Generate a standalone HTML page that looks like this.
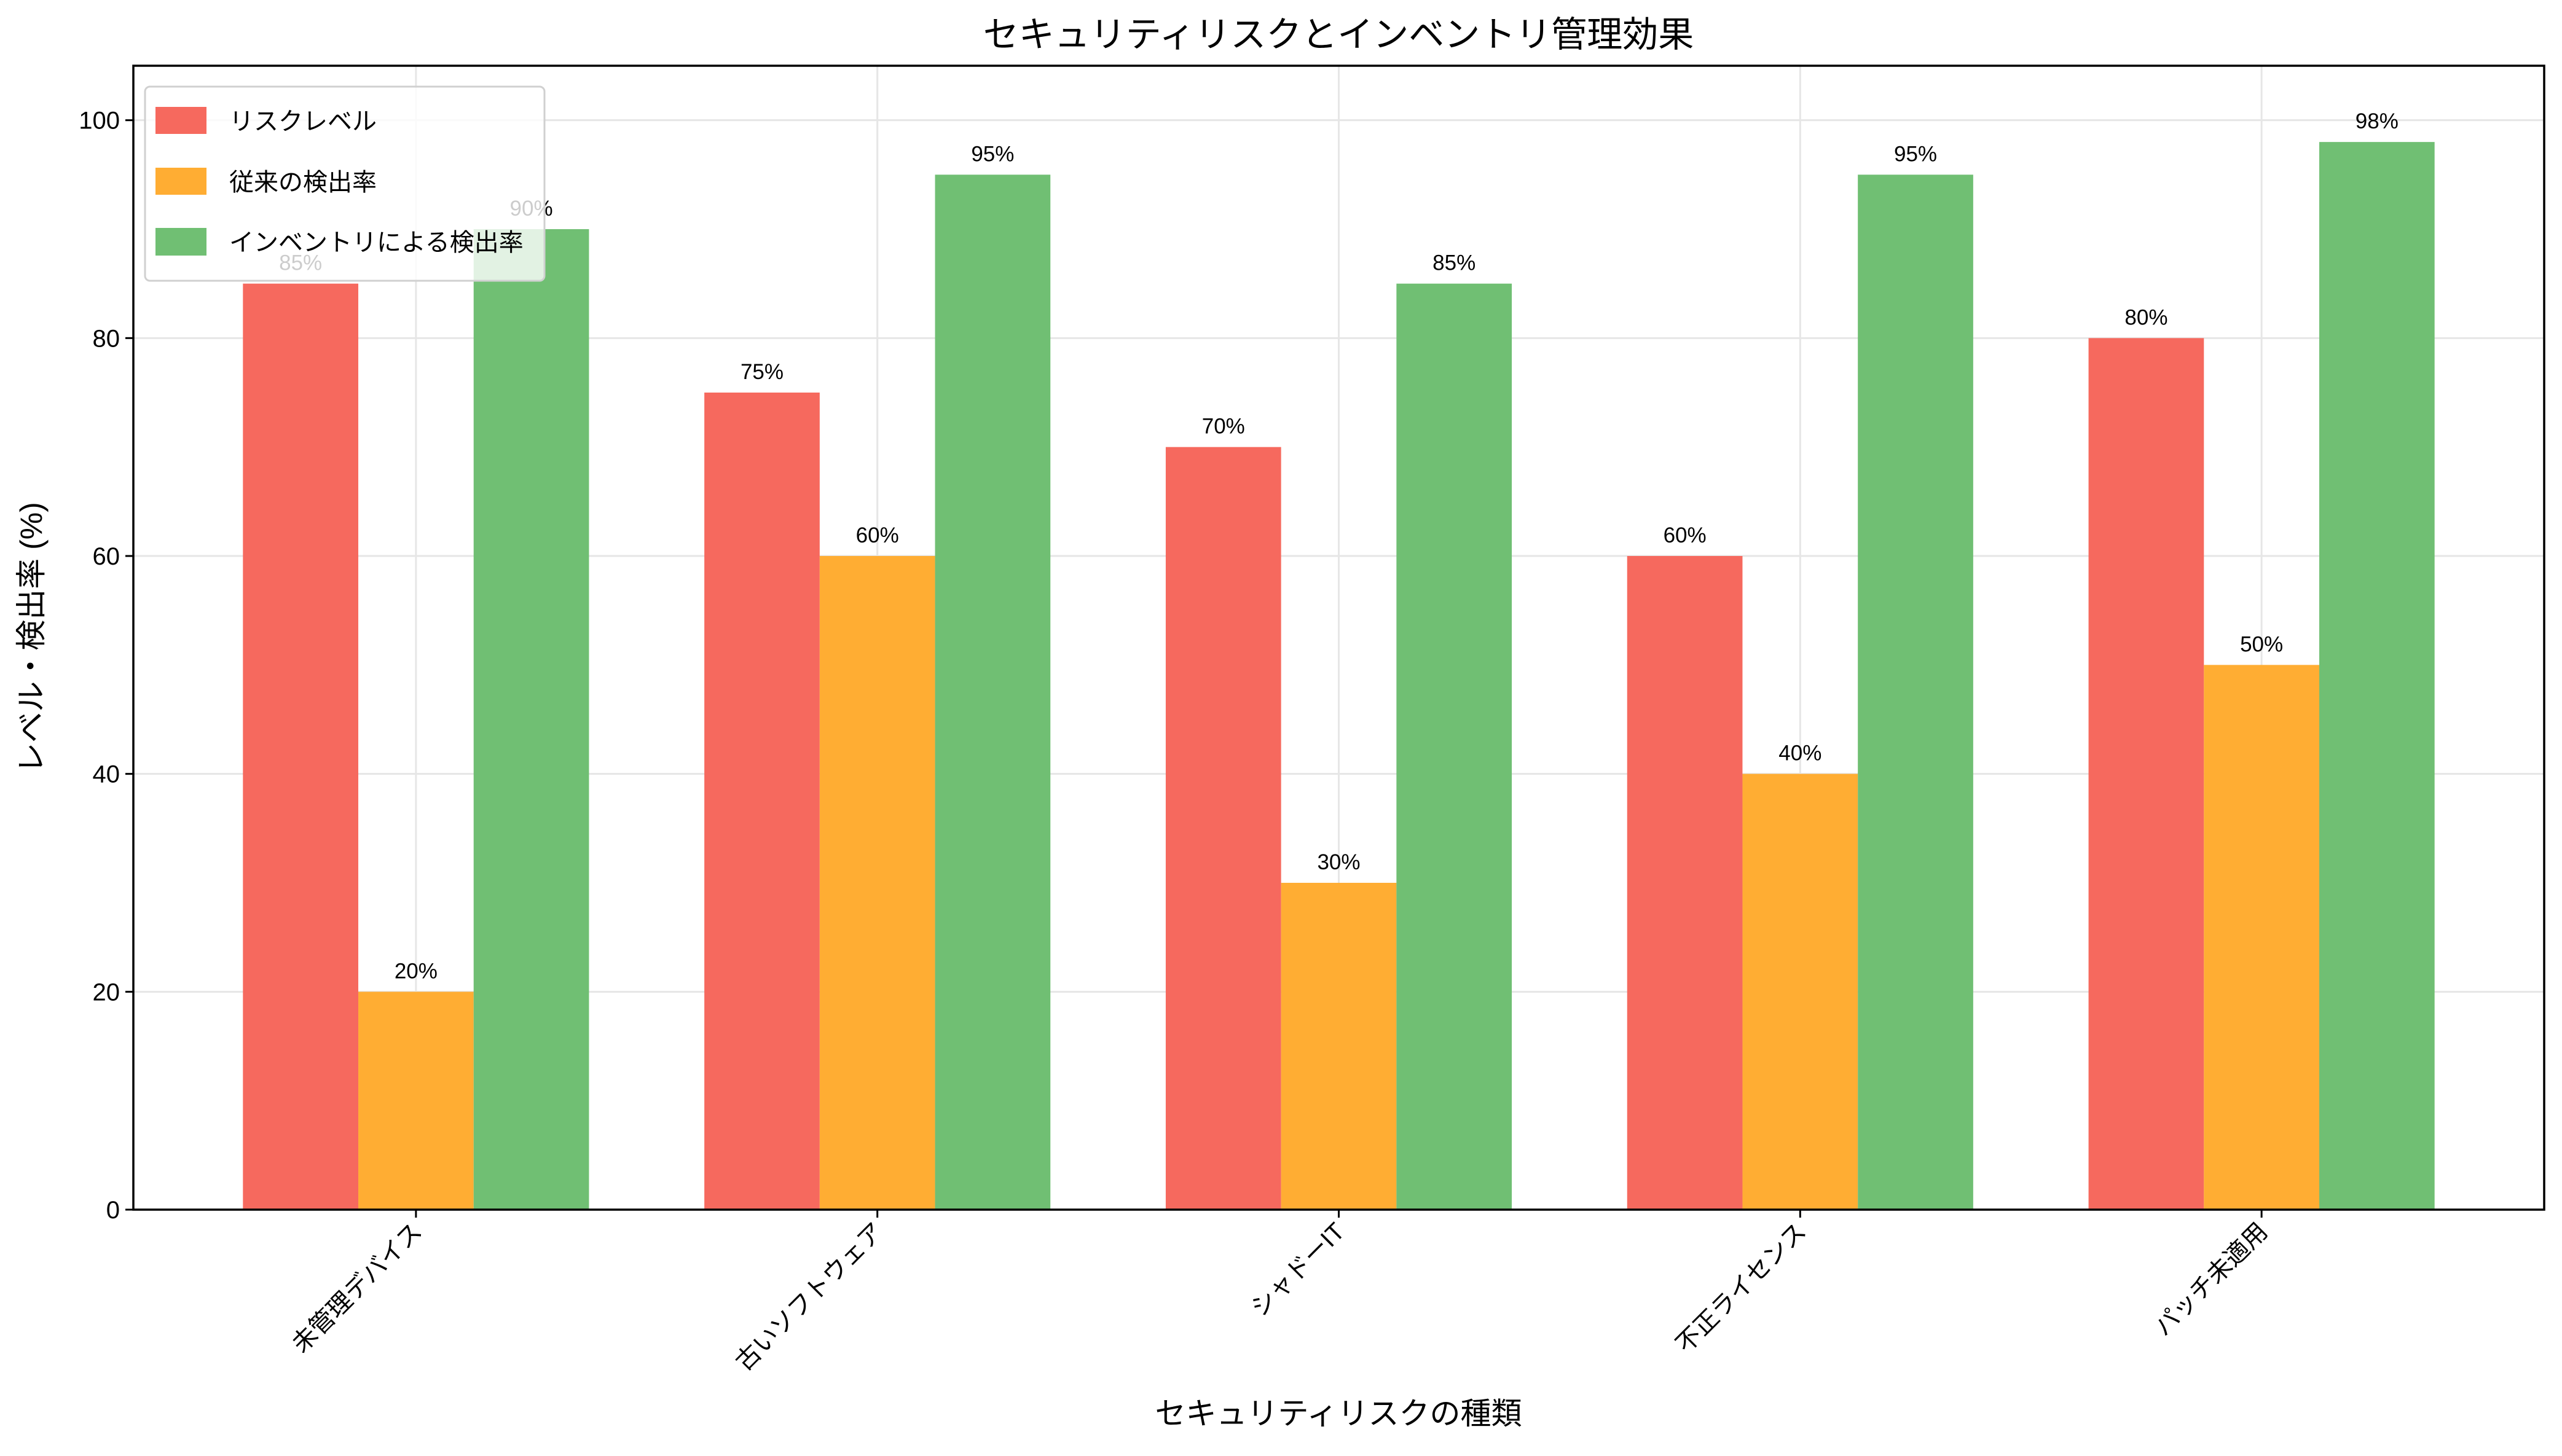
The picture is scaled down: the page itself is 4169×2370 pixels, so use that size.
<!DOCTYPE html>
<html><head><meta charset="utf-8"><style>
html,body{margin:0;padding:0;background:#fff}
svg{display:block;font-family:"Liberation Sans","Noto Sans CJK JP",sans-serif}
</style></head><body>
<svg id="chart" width="4169" height="2370" viewBox="0 0 4169 2370" xmlns="http://www.w3.org/2000/svg">
<rect width="4169" height="2370" fill="#fff"/>
<g id="grid"></g>
<g id="bars"></g>
<g id="labels"></g>
<g id="axes"></g>
<text x="2178" y="76" font-size="58" text-anchor="middle">セキュリティリスクとインベントリ管理効果</text>
<text x="2178" y="2318" font-size="50" text-anchor="middle">セキュリティリスクの種類</text>
<text transform="translate(68,1038) rotate(-90)" font-size="50" text-anchor="middle">レベル・検出率 (%)</text>
<g>
<rect x="236" y="141" width="650" height="316" rx="8" fill="#fff" fill-opacity="0.8" stroke="#d0d0d0" stroke-width="3"/>
<rect x="253" y="174" width="83" height="44" fill="#f6695e"/>
<text x="373" y="211" font-size="40">リスクレベル</text>
<rect x="253" y="273" width="83" height="44" fill="#ffad33"/>
<text x="373" y="310" font-size="40">従来の検出率</text>
<rect x="253" y="371" width="83" height="45" fill="#70bf73"/>
<text x="373" y="408" font-size="40">インベントリによる検出率</text>
</g>
</svg>
<script>
const categories = ["未管理デバイス","古いソフトウェア","シャドーIT","不正ライセンス","パッチ未適用"];
const riskLevel = [85,75,70,60,80];
const traditionalRate = [20,60,30,40,50];
const inventoryRate = [90,95,85,95,98];
const yTicks = [0,20,40,60,80,100];

const NS="http://www.w3.org/2000/svg";
const L=217,R=4140,T=107,B=1969;
const xMin=-0.6125,xMax=4.6125,yMax=105;
const xs=v=>L+(v-xMin)/(xMax-xMin)*(R-L);
const ys=v=>B-v/yMax*(B-T);
const bw=0.25;
function mk(tag,attrs,parent){const e=document.createElementNS(NS,tag);for(const k in attrs)e.setAttribute(k,attrs[k]);parent.appendChild(e);return e;}
const grid=document.getElementById('grid'),bars=document.getElementById('bars'),labels=document.getElementById('labels'),axes=document.getElementById('axes');
yTicks.forEach(t=>{
  const g=mk('line',{x1:L,x2:R,y1:ys(t),y2:ys(t),stroke:'#e6e6e6','stroke-width':3},grid);
  
  
  const tk=mk('line',{x1:L-13,x2:L,y1:ys(t),y2:ys(t),stroke:'#000','stroke-width':3},axes);
  
  
  const tl=mk('text',{x:L-22,y:ys(t)+14,'font-size':40,'text-anchor':'end'},axes);
  tl.textContent=t;
  
  
});
categories.forEach((c,i)=>{
  const x=xs(i);
  const g=mk('line',{x1:x,x2:x,y1:T,y2:B,stroke:'#e6e6e6','stroke-width':3},grid);
  
  
  const tk=mk('line',{x1:x,x2:x,y1:B,y2:B+13,stroke:'#000','stroke-width':3},axes);
  
  
  const tl=mk('text',{transform:`translate(${x+12},${B+38}) rotate(-45)`,'font-size':40,'text-anchor':'end'},axes);
  tl.textContent=c;
  
  
});
const series=[[riskLevel,'#f6695e',-1,'bar-risk'],[traditionalRate,'#ffad33',0,'bar-traditional'],[inventoryRate,'#70bf73',1,'bar-inventory']];
series.forEach(([vals,col,off,nm])=>{
  vals.forEach((v,i)=>{
    const x0=xs(i+off*bw-bw/2),x1=xs(i+off*bw+bw/2);
    const r=mk('rect',{x:x0,y:ys(v),width:x1-x0,height:B-ys(v),fill:col},bars);
    
    
    const t=mk('text',{x:(x0+x1)/2,y:ys(v)-22,'font-size':35,'text-anchor':'middle'},labels);
    t.textContent=v+'%';
    
    
  });
});
const fr=mk('rect',{x:L,y:T,width:R-L,height:B-T,fill:'none',stroke:'#000','stroke-width':3.5},axes);


</script>
</body></html>
